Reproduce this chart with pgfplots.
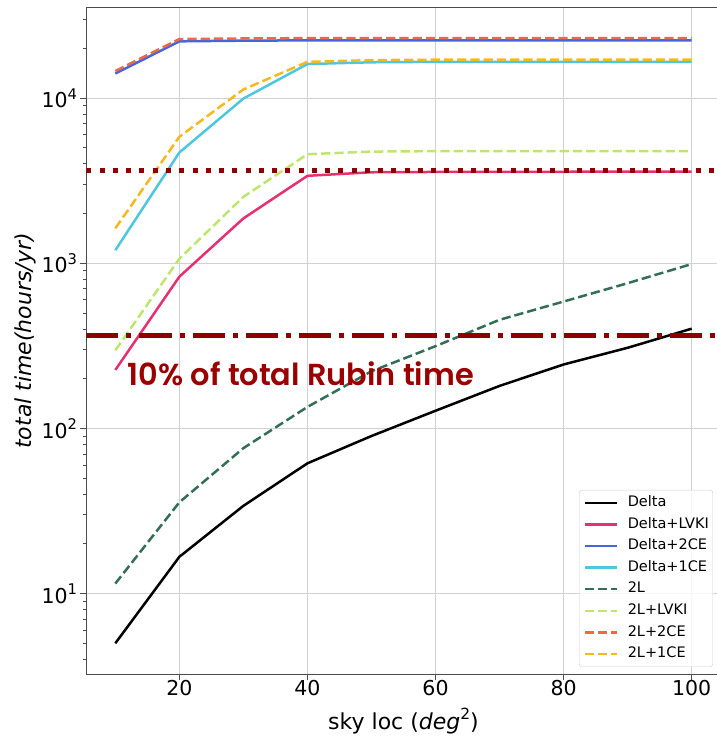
\documentclass[border=0pt]{standalone}
\usepackage{fontspec}
\setmainfont{DejaVu Sans}
\newfontfamily\poppins{Poppins}[BoldFont={* SemiBold}]
\usepackage{pgfplots}
\usepackage{pgfplotstable}
\pgfplotsset{compat=1.18}
\usetikzlibrary{calc}
\definecolor{cLVKI}{HTML}{E7306F}
\definecolor{cTwoCE}{HTML}{4664DC}
\definecolor{cOneCE}{HTML}{4EC6E0}
\definecolor{cTwoL}{HTML}{336E55}
\definecolor{cTwoLLVKI}{HTML}{BEE66E}
\definecolor{cTwoLTwoCE}{HTML}{EB6946}
\definecolor{cTwoLOneCE}{HTML}{F5B91E}
\definecolor{cLine}{HTML}{8B0000}
\definecolor{cText}{HTML}{9B0000}
\newcommand\supt[1]{\raisebox{0.42em}{\fontsize{14.7}{16}\selectfont #1}}
\newcommand\supl[1]{\raisebox{0.42em}{\fontsize{15.4}{17}\selectfont #1}}

\pgfplotstableread{
x   Delta  DeltaLVKI  DeltaTwoCE  DeltaOneCE  TwoL  TwoLLVKI  TwoLTwoCE  TwoLOneCE
10  5.0    226        14100       1200        11.5  297       14600      1630
20  16.7   830        22100       4690        35.7  1067      22800      5840
30  34.0   1871       22300       9950        76    2525      23000      11300
40  61.5   3388       22400       16100       135   4580      23100      16600
50  90     3560       22400       16500       222   4750      23100      17000
60  128    3575       22400       16600       315   4780      23100      17100
70  181    3580       22400       16600       455   4780      23100      17100
80  244    3585       22400       16600       587   4780      23100      17100
90  308    3590       22400       16600       758   4780      23100      17100
100 402    3595       22400       16600       990   4780      23100      17100
}\datatable

\begin{document}
\begin{tikzpicture}
\begin{axis}[
  scale only axis, width=634pt, height=667.2pt,
  xmin=5.5, xmax=104.5, ymode=log, ymin=3.236, ymax=35520,
  xtick={20,40,60,80,100},
  xticklabels={20,40,60,80,100},
  ytick={10,100,1000,10000},
  yticklabels={10\supt{1},10\supt{2},10\supt{3},10\supt{4}},
  minor ytick={4,5,6,7,8,9,20,30,40,50,60,70,80,90,200,300,400,500,600,700,800,900,2000,3000,4000,5000,6000,7000,8000,9000,20000,30000},
  grid=major, major grid style={draw=black!18, line width=1.3pt},
  tick align=outside, tick pos=left,
  axis line style={draw=black!70, line width=1.3pt},
  major tick style={draw=black!70, line width=1.2pt}, major tick length=6pt,
  minor tick style={draw=black!70, line width=1pt}, minor tick length=3.5pt,
  ticklabel style={font=\fontsize{20.5}{24}\selectfont},
  xticklabel style={anchor=base, yshift=-15pt},
  yticklabel style={anchor=east},
  xlabel={sky loc (\textit{deg}\supl{2})},
  ylabel={\textit{total time(hours/yr)}},
  label style={font=\fontsize{22}{26}\selectfont},
  xlabel style={at={(axis description cs:0.5,0)}, anchor=base, yshift=-54.5pt},
  ylabel style={at={(axis description cs:-0.097,0.5)}, anchor=center, rotate=0},
  legend style={at={(1,0)}, anchor=south east, xshift=-7.5pt, yshift=7.5pt,
    draw=black!20, rounded corners=3pt,
    fill=white, fill opacity=0.8, text opacity=1, draw opacity=1,
    inner xsep=4pt, inner ysep=5.5pt, row sep=7.1pt, column sep=10pt,
    nodes={inner sep=0pt, text height=11pt, text depth=3.5pt, font=\fontsize{14.5}{17}\selectfont}},
  legend cell align=left,
  legend image code/.code={\draw[#1] (0pt,0pt) -- (32pt,0pt);},
  every axis plot/.append style={line width=2.5pt, line join=round},
]
\addplot[black] table[x=x,y=Delta]{\datatable};
\addlegendentry{Delta}
\addplot[cLVKI] table[x=x,y=DeltaLVKI]{\datatable};
\addlegendentry{Delta+LVKI}
\addplot[cTwoCE] table[x=x,y=DeltaTwoCE]{\datatable};
\addlegendentry{Delta+2CE}
\addplot[cOneCE] table[x=x,y=DeltaOneCE]{\datatable};
\addlegendentry{Delta+1CE}
\addplot[cTwoL, dash pattern=on 9.25pt off 4pt] table[x=x,y=TwoL]{\datatable};
\addlegendentry{2L}
\addplot[cTwoLLVKI, dash pattern=on 9.25pt off 4pt] table[x=x,y=TwoLLVKI]{\datatable};
\addlegendentry{2L+LVKI}
\addplot[cTwoLTwoCE, dash pattern=on 9.25pt off 4pt] table[x=x,y=TwoLTwoCE]{\datatable};
\addlegendentry{2L+2CE}
\addplot[cTwoLOneCE, dash pattern=on 9.25pt off 4pt] table[x=x,y=TwoLOneCE]{\datatable};
\addlegendentry{2L+1CE}
\addplot[forget plot, cLine, line width=5pt, line cap=butt, dash pattern=on 5pt off 8.25pt] coordinates {(5.5,3650) (104.5,3650)};
\addplot[forget plot, cLine, line width=5pt, line cap=butt, dash pattern=on 32pt off 8pt on 5pt off 8pt] coordinates {(5.5,365) (104.5,365)};
\node[anchor=base west, text=cText, inner sep=0pt] at (axis cs:11.94,181) {\resizebox{346pt}{!}{\poppins\bfseries 10\% of total Rubin time}};
\end{axis}
\pgfresetboundingbox
\path[use as bounding box] ($(current axis.south west)+(-86.5pt,-61.5pt)$) rectangle ($(current axis.south west)+(630.5pt,674.5pt)$);
\end{tikzpicture}
\end{document}
